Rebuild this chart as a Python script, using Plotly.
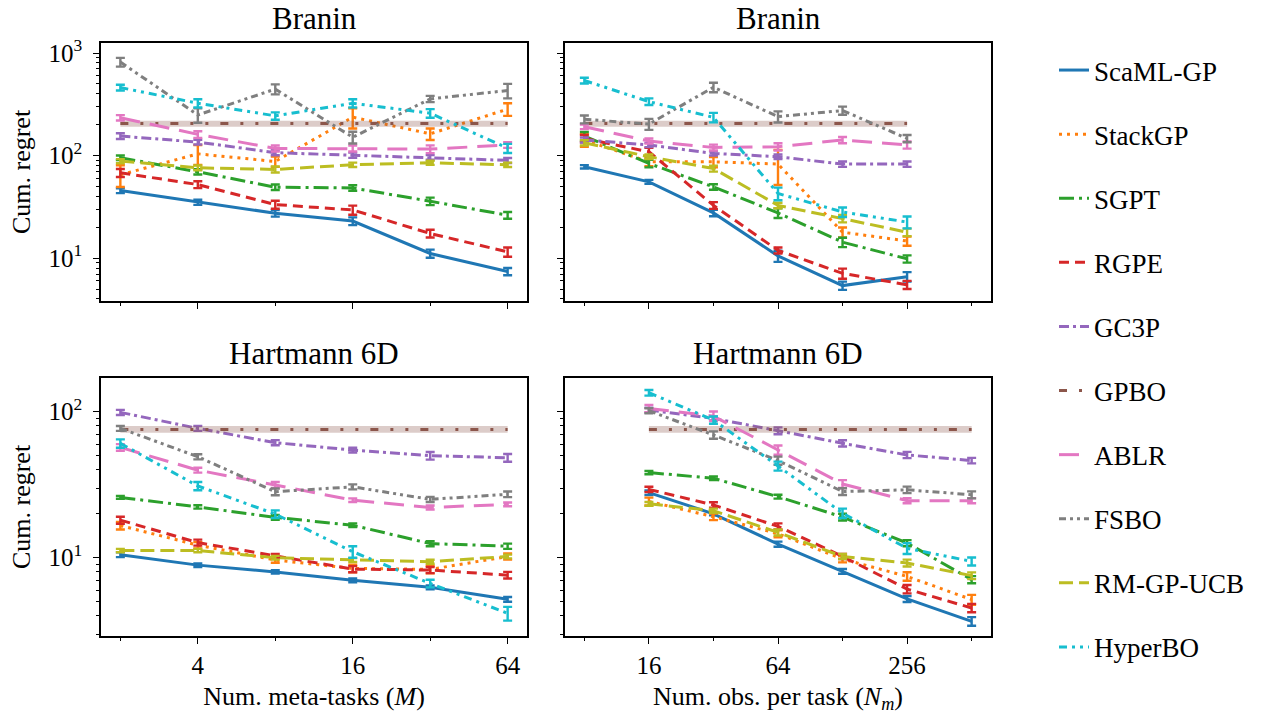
import plotly.graph_objects as go

methods = ["ScaML-GP", "StackGP", "SGPT", "RGPE", "GC3P", "GPBO", "ABLR", "FSBO", "RM-GP-UCB", "HyperBO"]
colors = ["#1f77b4", "#ff7f0e", "#2ca02c", "#d62728", "#9467bd", "#8c564b", "#e377c2", "#7f7f7f", "#bcbd22", "#17becf"]
dashes = ["solid", "3px,5px", "15px,5px,3px,5px", "10px,6px", "10px,4px,3px,4px",
          "8px,12px,3px,12px,3px,12px", "20px,10px", "7px,4px,3px,4px,3px,4px",
          "14px,6px", "8px,5px,3px,5px,3px,5px"]

M_vals = [2, 4, 8, 16, 32, 64]
N_top = [8, 16, 32, 64, 128, 256]
N_bot = [16, 32, 64, 128, 256, 512]

# Branin vs number of meta-tasks (rows follow `methods`)
branin_M_mean = [
    [45.6, 35.1, 27.4, 23.0, 11.1, 7.4],
    [65, 104, 87.6, 237, 163, 284],
    [95.3, 69.5, 49.2, 48.4, 35.9, 26.2],
    [67.9, 52.2, 33.3, 29.5, 17.4, 11.5],
    [155, 135.5, 106.7, 101, 96, 89.8],
    [205, 205, 205, 205, 205, 205],
    [234, 161, 117.5, 117.5, 115.8, 126.8],
    [817, 249, 445, 151, 357, 431],
    [88.3, 76, 73.3, 81.3, 85.1, 81.3],
    [461, 324, 244, 324, 259, 118],
]
branin_M_err = [
    [2.5, 2, 2, 2, 1, 0.6],
    [15.6, 23, 10, 53, 21, 40],
    [5, 4, 3, 3, 3, 2],
    [6, 4, 3, 3, 1.5, 1.2],
    [10, 7, 6, 6, 5, 5],
    [14, 14, 14, 14, 14, 14],
    [14, 12, 8, 8, 10, 8],
    [80, 40, 50, 20, 25, 70],
    [4, 4, 5, 4, 4, 4],
    [30, 30, 20, 30, 25, 12],
]

# Branin vs number of observations per task
branin_N_mean = [
    [77.8, 55.5, 27.6, 10.5, 5.4, 6.6],
    [142, 87, 87, 82.7, 17.9, 14.7],
    [155, 83.8, 49.5, 27.6, 14.3, 9.85],
    [147, 109, 32.7, 11.9, 7.1, 5.5],
    [142, 127, 105, 97.5, 82.6, 82.6],
    [205, 205, 205, 205, 205, 205],
    [191, 138.7, 120, 122, 142, 127],
    [226, 203, 464, 240, 275, 147],
    [133.6, 97.5, 74.8, 32.7, 24.3, 17.9],
    [540, 336, 236, 42.7, 28.2, 22.5],
]
branin_N_err = [
    [3, 2.5, 2, 1.3, 0.5, 0.7],
    [20, 8, 10, 31, 2, 1.5],
    [15, 7, 3, 3, 1.5, 0.8],
    [12, 10, 2.5, 0.8, 0.8, 0.5],
    [8, 6, 5, 5, 5, 5],
    [14, 14, 14, 14, 14, 14],
    [10, 8, 8, 10, 10, 10],
    [20, 25, 50, 30, 25, 12],
    [8, 5, 5, 2, 2, 1.5],
    [35, 25, 25, 6, 3, 3],
]

# Hartmann 6D vs number of meta-tasks
hart_M_mean = [
    [10.5, 8.9, 8.0, 7.0, 6.27, 5.19],
    [16.6, 12.2, 9.64, 8.45, 8.32, 10.2],
    [25.9, 22.3, 18.9, 16.7, 12.5, 12.0],
    [18.1, 12.7, 10.3, 8.36, 8.24, 7.6],
    [99, 76.9, 61.4, 54.6, 50, 48.4],
    [75.7, 75.7, 75.7, 75.7, 75.7, 75.7],
    [57, 39.8, 31.5, 24.8, 22.1, 23.2],
    [76.9, 49.2, 28.3, 30.6, 25.1, 27.2],
    [11.2, 11.2, 10.0, 9.64, 9.39, 10.2],
    [60.7, 31, 19.9, 11, 6.67, 4.16],
]
hart_M_err = [
    [0.4, 0.25, 0.2, 0.2, 0.2, 0.2],
    [1, 0.6, 0.4, 0.5, 0.5, 0.5],
    [0.6, 0.6, 0.7, 0.5, 0.5, 0.5],
    [1, 0.6, 0.3, 0.4, 0.4, 0.4],
    [4, 3, 2.5, 2, 3, 3],
    [4, 4, 4, 4, 4, 4],
    [3, 1.5, 1.5, 0.7, 0.7, 0.7],
    [3, 2, 1.5, 1.2, 1, 1.2],
    [0.3, 0.3, 0.3, 0.3, 0.3, 0.3],
    [4, 2, 1.2, 1, 0.4, 0.45],
]

# Hartmann 6D vs number of observations per task
hart_N_mean = [
    [27.9, 20, 12.4, 8.07, 5.22, 3.67],
    [24.3, 19.1, 14.6, 9.8, 7.45, 5.17],
    [38.3, 35, 26.2, 19, 12.6, 7.08],
    [29.4, 23, 16.4, 10.2, 6.1, 4.53],
    [102.6, 90, 74.1, 60.8, 50.6, 46.3],
    [75.7, 75.7, 75.7, 75.7, 75.7, 75.7],
    [105.4, 93.3, 54.7, 32, 24.6, 24.6],
    [101.6, 69.3, 46.3, 28.4, 29.2, 27],
    [23.4, 21, 14.9, 10.2, 9.2, 7.54],
    [135, 87.7, 42.5, 20.2, 11.6, 9.44],
]
hart_N_err = [
    [1, 0.5, 0.5, 0.3, 0.25, 0.25],
    [1.5, 1, 0.8, 0.5, 0.5, 0.4],
    [1, 1, 0.8, 1, 0.6, 0.4],
    [1.2, 1, 0.8, 0.4, 0.4, 0.3],
    [4, 3, 4, 3, 2.5, 2],
    [4, 4, 4, 4, 4, 4],
    [6, 7, 4, 2, 1, 1],
    [4, 4, 3, 1.5, 1.5, 1.5],
    [0.7, 0.7, 0.7, 0.4, 0.5, 0.4],
    [6, 5, 3, 1.5, 1, 0.6],
]

panel_titles = ["Branin", "Branin", "Hartmann 6D", "Hartmann 6D"]
FONT = "Liberation Serif, Times New Roman, serif"

panels = [
    ("x", "y", M_vals, branin_M_mean, branin_M_err),
    ("x2", "y2", N_top, branin_N_mean, branin_N_err),
    ("x3", "y3", M_vals, hart_M_mean, hart_M_err),
    ("x4", "y4", N_bot, hart_N_mean, hart_N_err),
]

fig = go.Figure()
for p, (xa, ya, xs, means, errs) in enumerate(panels):
    for i, name in enumerate(methods):
        c = colors[i]
        if name == "GPBO":
            lo = [m - e for m, e in zip(means[i], errs[i])]
            hi = [m + e for m, e in zip(means[i], errs[i])]
            fig.add_trace(go.Scatter(x=xs, y=lo, mode="lines", line=dict(width=0, color=c),
                                     showlegend=False, hoverinfo="skip", xaxis=xa, yaxis=ya))
            fig.add_trace(go.Scatter(x=xs, y=hi, mode="lines", line=dict(width=0, color=c),
                                     fill="tonexty", fillcolor="rgba(140,86,75,0.3)",
                                     showlegend=False, hoverinfo="skip", xaxis=xa, yaxis=ya))
            fig.add_trace(go.Scatter(x=xs, y=means[i], mode="lines", name=name,
                                     line=dict(color=c, width=3, dash=dashes[i]),
                                     legendgroup=name, showlegend=(p == 0), xaxis=xa, yaxis=ya))
        else:
            fig.add_trace(go.Scatter(
                x=xs, y=means[i], mode="lines", name=name,
                line=dict(color=c, width=3, dash=dashes[i]),
                error_y=dict(type="data", array=errs[i], color=c, thickness=2.4, width=4.5),
                legendgroup=name, showlegend=(p == 0), xaxis=xa, yaxis=ya))

xl_dom = [101 / 1261, 527 / 1261]
xr_dom = [565 / 1261, 991 / 1261]
yt_dom = [(715 - 301) / 715, (715 - 43) / 715]
yb_dom = [(715 - 636) / 715, (715 - 378) / 715]

axis_common = dict(type="log", showline=True, mirror=True, linecolor="black", linewidth=1.6,
                   ticks="outside", ticklen=6, tickwidth=1.3, tickcolor="black",
                   showgrid=False, zeroline=False, automargin=False,
                   tickfont=dict(family=FONT, size=25, color="black"))

def xaxis(dom, anchor, major, minor, rng, labels, title=None):
    d = dict(axis_common)
    d.update(domain=dom, anchor=anchor, range=rng, tickmode="array", tickvals=major,
             ticktext=[str(v) if labels else "" for v in major],
             minor=dict(tickmode="array", tickvals=minor, ticks="outside", ticklen=3.5,
                        tickwidth=1.1, tickcolor="black", showgrid=False))
    if title:
        d["title"] = dict(text=title, font=dict(family=FONT, size=26, color="black"), standoff=9)
    return d

def yaxis(dom, anchor, rng, decades, labels, title=None):
    minor = [k * 10 ** e for e in range(0, 4) for k in range(2, 10)]
    d = dict(axis_common)
    d.update(domain=dom, anchor=anchor, range=rng, tickmode="array",
             tickvals=[10 ** e for e in decades],
             ticktext=["10<sup>%d</sup>" % e if labels else "" for e in decades],
             ticklabelstandoff=6,
             minor=dict(tickmode="array", tickvals=minor, ticks="outside", ticklen=3.5,
                        tickwidth=1.1, tickcolor="black", showgrid=False))
    if title:
        d["title"] = dict(text=title, font=dict(family=FONT, size=26, color="black"), standoff=10)
    return d

xl_rng = [0.75 * 0.30103, 6.25 * 0.30103]
xr_rng = [2.7 * 0.30103, 9.3 * 0.30103]

fig.update_layout(
    width=1261, height=715, margin=dict(l=0, r=0, t=0, b=0, autoexpand=False),
    plot_bgcolor="white", paper_bgcolor="white",
    font=dict(family=FONT, color="black"),
    xaxis=xaxis(xl_dom, "y", [4, 16, 64], [2, 8, 32], xl_rng, False),
    xaxis2=xaxis(xr_dom, "y2", [16, 64, 256], [8, 32, 128, 512], xr_rng, False),
    xaxis3=xaxis(xl_dom, "y3", [4, 16, 64], [2, 8, 32], xl_rng, True, "Num. meta-tasks (<i>M</i>)"),
    xaxis4=xaxis(xr_dom, "y4", [16, 64, 256], [8, 32, 128, 512], xr_rng, True,
                 "Num. obs. per task (<i>N<sub>m</sub></i>)"),
    yaxis=yaxis(yt_dom, "x", [0.582, 3.098], [1, 2, 3], True, "Cum. regret"),
    yaxis2=yaxis(yt_dom, "x2", [0.582, 3.098], [1, 2, 3], False),
    yaxis3=yaxis(yb_dom, "x3", [0.464, 2.231], [1, 2], True, "Cum. regret"),
    yaxis4=yaxis(yb_dom, "x4", [0.464, 2.231], [1, 2], False),
    legend=dict(x=1054 / 1261, y=1 - 46 / 715, xanchor="left", yanchor="top",
                font=dict(family=FONT, size=27, color="black"),
                tracegroupgap=26, traceorder="grouped", bgcolor="rgba(0,0,0,0)"),
)

title_pos = [(xl_dom, yt_dom), (xr_dom, yt_dom), (xl_dom, yb_dom), (xr_dom, yb_dom)]
for t, (xd, yd) in zip(panel_titles, title_pos):
    fig.add_annotation(text=t, x=(xd[0] + xd[1]) / 2, y=yd[1], xref="paper", yref="paper",
                       xanchor="center", yanchor="bottom", yshift=5, showarrow=False,
                       font=dict(family=FONT, size=31, color="black"))

fig.write_html("out.html", config={"displayModeBar": False},
               post_script="document.body.style.margin='0';document.body.style.padding='0';")
